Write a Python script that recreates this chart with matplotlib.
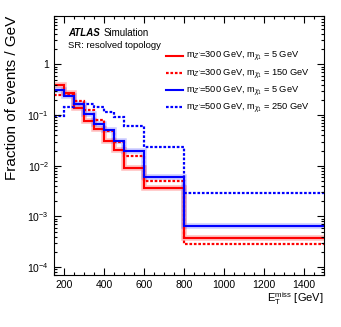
import numpy as np
import matplotlib
matplotlib.use('Agg')
import matplotlib.pyplot as plt
from matplotlib.ticker import LogLocator, FuncFormatter, MultipleLocator, NullFormatter

plt.rcParams['font.family'] = ['Liberation Sans', 'DejaVu Sans']
plt.rcParams['mathtext.fontset'] = 'custom'
plt.rcParams['mathtext.rm'] = 'Liberation Sans'
plt.rcParams['mathtext.it'] = 'Liberation Sans:italic'
plt.rcParams['mathtext.bf'] = 'Liberation Sans:bold'

# Bin edges (GeV) and fractions
edges = [150, 200, 250, 300, 350, 400, 450, 500, 600, 800, 1500]
mz300_m5 = [0.385, 0.277, 0.140, 0.0775, 0.054, 0.0304, 0.0202, 0.0091, 0.0036, 3.7e-4]
mz300_m150 = [0.253, 0.248, 0.189, 0.128, 0.081, 0.048, 0.030, 0.0153, 0.0050, 2.8e-4]
mz500_m5 = [0.307, 0.241, 0.168, 0.103, 0.067, 0.050, 0.031, 0.0198, 0.0060, 6.5e-4]
mz500_m250 = [0.094, 0.144, 0.165, 0.165, 0.142, 0.114, 0.092, 0.060, 0.0234, 0.0029]

labels = [r"m$_{Z'}$=300 GeV, m$_{\chi_1}$ = 5 GeV",
          r"m$_{Z'}$=300 GeV, m$_{\chi_1}$ = 150 GeV",
          r"m$_{Z'}$=500 GeV, m$_{\chi_1}$ = 5 GeV",
          r"m$_{Z'}$=500 GeV, m$_{\chi_1}$ = 250 GeV"]

fig = plt.figure(figsize=(3.41, 3.27), dpi=100)
ax = fig.add_axes([0.158, 0.159, 0.792, 0.792])

dot = (0, (1.2, 0.8))
# light bands behind the solid lines
ax.stairs(mz300_m5, edges, baseline=None, color='red', alpha=0.25, linewidth=4)
ax.stairs(mz500_m5, edges, baseline=None, color='blue', alpha=0.2, linewidth=4)

ax.stairs(mz300_m5, edges, baseline=None, color='red', linewidth=1.5, label=labels[0])
ax.stairs(mz300_m150, edges, baseline=None, color='red', linewidth=1.6, linestyle=dot, label=labels[1])
ax.stairs(mz500_m5, edges, baseline=None, color='blue', linewidth=1.5, label=labels[2])
ax.stairs(mz500_m250, edges, baseline=None, color='blue', linewidth=1.6, linestyle=dot, label=labels[3])

ax.set_yscale('log')
ax.set_xlim(150, 1500)
ax.set_ylim(7e-5, 9)

ax.xaxis.set_major_locator(MultipleLocator(200))
ax.xaxis.set_minor_locator(MultipleLocator(50))
ax.yaxis.set_major_locator(LogLocator(base=10))
ax.yaxis.set_minor_locator(LogLocator(base=10, subs=np.arange(2, 10)))
ax.yaxis.set_minor_formatter(NullFormatter())
ax.yaxis.set_major_formatter(FuncFormatter(lambda v, p: '1' if abs(v - 1) < 1e-9 else r'$10^{%d}$' % round(np.log10(v))))

ax.tick_params(which='both', direction='in', top=True, right=True, labelsize=7.5, width=0.8)
ax.tick_params(which='major', length=5)
ax.tick_params(which='minor', length=2.5)
for s in ax.spines.values():
    s.set_linewidth(0.8)

ax.set_ylabel('Fraction of events / GeV', fontsize=11, loc='top', labelpad=6)
ax.set_xlabel(r'E$_{\rm T}^{\rm miss}$ [GeV]', fontsize=8, loc='right', labelpad=0)

ax.text(0.052, 0.935, 'ATLAS', transform=ax.transAxes, fontsize=7, fontweight='bold', fontstyle='italic', va='center')
ax.text(0.185, 0.935, 'Simulation', transform=ax.transAxes, fontsize=7, va='center')
ax.text(0.052, 0.888, 'SR: resolved topology', transform=ax.transAxes, fontsize=6.8, va='center')

ax.legend(loc='upper left', bbox_to_anchor=(0.415, 0.868), frameon=False, fontsize=6.7,
          handlelength=1.8, handletextpad=0.4, labelspacing=0.34, borderpad=0, borderaxespad=0)

fig.savefig('out.png', dpi=100)
